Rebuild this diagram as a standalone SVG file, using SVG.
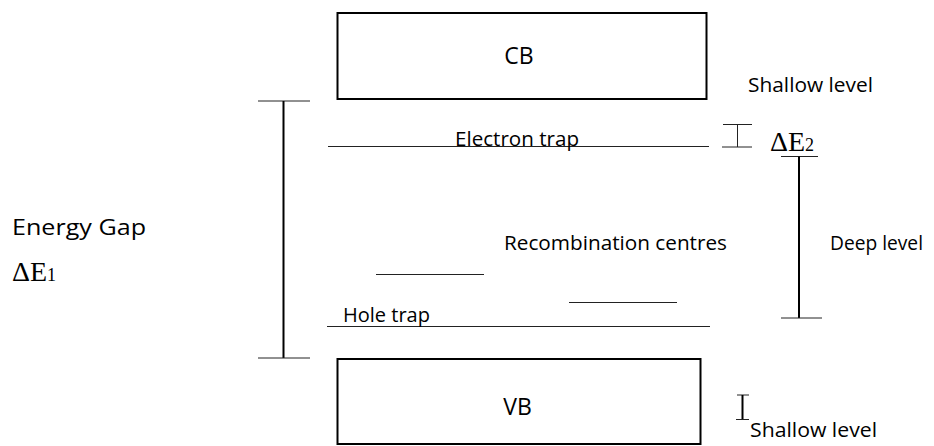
<svg xmlns="http://www.w3.org/2000/svg" width="934" height="446" viewBox="0 0 934 446">
  <style>
    .lbl { font-family: "Open Sans", "Noto Sans", "Liberation Sans", sans-serif; fill: #000; }
    .sym { font-family: "Liberation Serif", "Times New Roman", serif; fill: #000; }
    .band { fill: #fff; stroke: #000; stroke-width: 2; }
    .thin { stroke: #222; stroke-width: 1; fill: none; }
    .bar { stroke: #000; stroke-width: 2; fill: none; }
  </style>
  <rect width="934" height="446" fill="#fff"/>

  <!-- conduction band -->
  <g id="cb">
    <rect class="band" x="337.5" y="13" width="369" height="86"/>
    <text class="lbl" x="519" y="63.5" font-size="23" text-anchor="middle">CB</text>
  </g>

  <!-- valence band -->
  <g id="vb">
    <rect class="band" x="337.5" y="359" width="363" height="85"/>
    <text class="lbl" x="517.5" y="414.5" font-size="23" text-anchor="middle">VB</text>
  </g>

  <!-- trap levels -->
  <g id="electron-trap">
    <line class="thin" x1="328" y1="146.5" x2="709" y2="146.5"/>
    <text class="lbl" x="455" y="146" font-size="20.5" textLength="124" lengthAdjust="spacingAndGlyphs">Electron trap</text>
  </g>
  <g id="hole-trap">
    <line class="thin" x1="327" y1="326.5" x2="710" y2="326.5"/>
    <text class="lbl" x="343" y="321.5" font-size="20.5" textLength="87" lengthAdjust="spacingAndGlyphs">Hole trap</text>
  </g>
  <g id="recombination-centres">
    <line class="thin" x1="376" y1="274.5" x2="484" y2="274.5"/>
    <line class="thin" x1="569" y1="302.5" x2="677" y2="302.5"/>
    <text class="lbl" x="504" y="250" font-size="20.5" textLength="223" lengthAdjust="spacingAndGlyphs">Recombination centres</text>
  </g>

  <!-- energy gap -->
  <g id="energy-gap">
    <text class="lbl" x="12" y="234.5" font-size="22" textLength="134" lengthAdjust="spacingAndGlyphs">Energy Gap</text>
    <text class="sym" x="12" y="281" font-size="28">ΔE<tspan font-size="18">1</tspan></text>
  </g>

  <!-- shallow and deep level labels -->
  <g id="shallow-level-top">
    <text class="lbl" x="748" y="92" font-size="20.5" textLength="125" lengthAdjust="spacingAndGlyphs">Shallow level</text>
  </g>
  <g id="delta-e2">
    <text class="sym" x="770" y="150.5" font-size="28">ΔE<tspan font-size="18">2</tspan></text>
  </g>
  <g id="deep-level">
    <text class="lbl" x="830" y="250" font-size="20.5" textLength="93" lengthAdjust="spacingAndGlyphs">Deep level</text>
  </g>
  <g id="shallow-level-bottom">
    <text class="lbl" x="750" y="436.5" font-size="20.5" textLength="127" lengthAdjust="spacingAndGlyphs">Shallow level</text>
  </g>

  <!-- dimension bars -->
  <g id="connectors">
    <!-- energy gap span -->
    <line class="thin" x1="258" y1="101" x2="310" y2="101"/>
    <line class="bar" x1="283.5" y1="101" x2="283.5" y2="358"/>
    <line class="thin" x1="258" y1="358" x2="310" y2="358"/>
    <!-- shallow level span below CB -->
    <line class="thin" x1="723" y1="124.5" x2="752" y2="124.5"/>
    <line class="thin" x1="737.5" y1="124.5" x2="737.5" y2="147"/>
    <line class="thin" x1="722" y1="147" x2="752" y2="147"/>
    <!-- deep level span -->
    <line class="thin" x1="781" y1="156.5" x2="818" y2="156.5"/>
    <line class="bar" x1="799" y1="156.5" x2="799" y2="318"/>
    <line class="thin" x1="781" y1="318" x2="822" y2="318"/>
    <!-- shallow level span above VB -->
    <line class="thin" x1="737" y1="395" x2="749" y2="395"/>
    <line class="bar" x1="742.5" y1="395" x2="742.5" y2="419.5"/>
    <line class="thin" x1="736" y1="419.5" x2="749" y2="419.5"/>
  </g>
</svg>
